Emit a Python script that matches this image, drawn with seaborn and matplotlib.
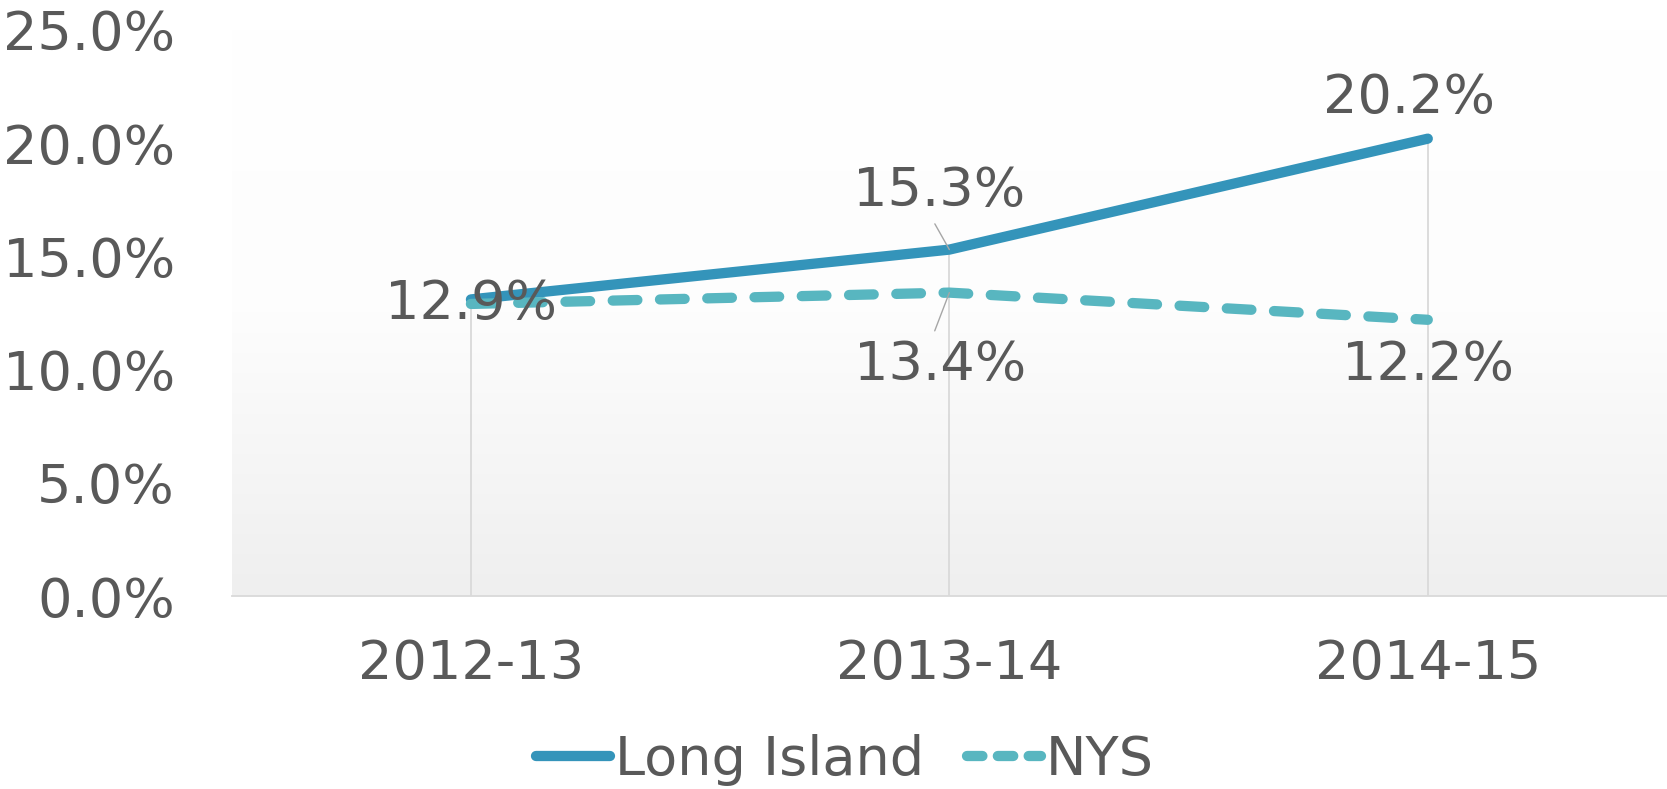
import numpy as np
import pandas as pd
import matplotlib
matplotlib.use("Agg")
import matplotlib.pyplot as plt
import seaborn as sns
from matplotlib.colors import LinearSegmentedColormap
from matplotlib.lines import Line2D

categories = ["2012-13", "2013-14", "2014-15"]
long_island = [13.1, 15.3, 20.2]
nys = [12.9, 13.4, 12.2]
li_labels = [None, "15.3%", "20.2%"]
nys_labels = ["12.9%", "13.4%", "12.2%"]
y_ticks = [0, 5, 10, 15, 20, 25]

sns.set_theme(style="white")
plt.rcParams["font.family"] = ["DejaVu Sans"]
TXT = "#595959"
C_LI = "#3494BA"
C_NYS = "#58B6C0"

df = pd.DataFrame({
    "Year": categories * 2,
    "Value": long_island + nys,
    "Series": ["Long Island"] * 3 + ["NYS"] * 3,
})

fig = plt.figure(figsize=(16.67, 7.89), dpi=100)
ax = fig.add_axes([0.139, 0.2446, 0.861, 0.7174])

# gradient background
grad = np.linspace(0, 1, 256).reshape(-1, 1)
cmap = LinearSegmentedColormap.from_list("g", ["#ffffff", "#fdfdfd", "#efefef"])
ax.imshow(grad, aspect="auto", cmap=cmap, extent=[0, 1, 0, 1],
          transform=ax.transAxes, zorder=0)

lw = 7.4
sns.lineplot(data=df, x="Year", y="Value", hue="Series", style="Series",
             palette={"Long Island": C_LI, "NYS": C_NYS},
             dashes={"Long Island": "", "NYS": (2.4, 2.2)},
             linewidth=lw, ax=ax, legend=False, zorder=3,
             sort=False)
for ln in ax.get_lines():
    ln.set_solid_capstyle("round")
    ln.set_dash_capstyle("round")

ax.set_xlim(-0.5, 2.5)
ax.set_ylim(0, 25)

# drop lines
for i in range(len(categories)):
    top = max(long_island[i], nys[i])
    ax.vlines(i, 0, top, color="#d9d9d9", lw=1.3, zorder=1)

fs = 39
ax.set_yticks(y_ticks)
ax.set_yticklabels([f"{v:.1f}%" for v in y_ticks])
ax.set_xticks(range(len(categories)))
ax.set_xticklabels(categories)
ax.tick_params(axis="y", length=0, pad=41, labelsize=fs, labelcolor=TXT)
ax.tick_params(axis="x", length=0, pad=30, labelsize=fs, labelcolor=TXT)
ax.set_xlabel("")
ax.set_ylabel("")
for s in ["left", "top", "right"]:
    ax.spines[s].set_visible(False)
ax.spines["bottom"].set_color("#d9d9d9")
ax.spines["bottom"].set_linewidth(1.3)
ax.grid(False)

# data labels
ax.annotate(nys_labels[0], (0, nys[0]), xytext=(0, 0), textcoords="offset pixels",
            ha="center", va="center", fontsize=fs, color=TXT, zorder=5)
ax.annotate(li_labels[1], (1, long_island[1]), xytext=(-10, 59), textcoords="offset pixels",
            ha="center", va="center", fontsize=fs, color=TXT, zorder=5,
            arrowprops=dict(arrowstyle="-", color="#a6a6a6", lw=1, shrinkA=6, shrinkB=0,
                            relpos=(0.45, 0.0), patchA=None))
ax.annotate(nys_labels[1], (1, nys[1]), xytext=(-9, -72), textcoords="offset pixels",
            ha="center", va="center", fontsize=fs, color=TXT, zorder=5,
            arrowprops=dict(arrowstyle="-", color="#a6a6a6", lw=1, shrinkA=6, shrinkB=0,
                            relpos=(0.45, 1.0), patchA=None))
ax.annotate(li_labels[2], (2, long_island[2]), xytext=(-19, 41), textcoords="offset pixels",
            ha="center", va="center", fontsize=fs, color=TXT, zorder=5)
ax.annotate(nys_labels[2], (2, nys[2]), xytext=(0, -45), textcoords="offset pixels",
            ha="center", va="center", fontsize=fs, color=TXT, zorder=5)

# legend
h1 = Line2D([], [], color=C_LI, lw=lw, solid_capstyle="round")
h2 = Line2D([], [], color=C_NYS, lw=lw, dashes=(1.5, 1.5), dash_capstyle="round")
leg = fig.legend([h1, h2], ["Long Island", "NYS"], loc="center",
                 bbox_to_anchor=(0.507, 0.037), ncol=2, frameon=False,
                 fontsize=fs, handlelength=1.35, handletextpad=0.1,
                 columnspacing=0.8, borderpad=0)
for t in leg.get_texts():
    t.set_color(TXT)

fig.savefig("out.png", dpi=100)
